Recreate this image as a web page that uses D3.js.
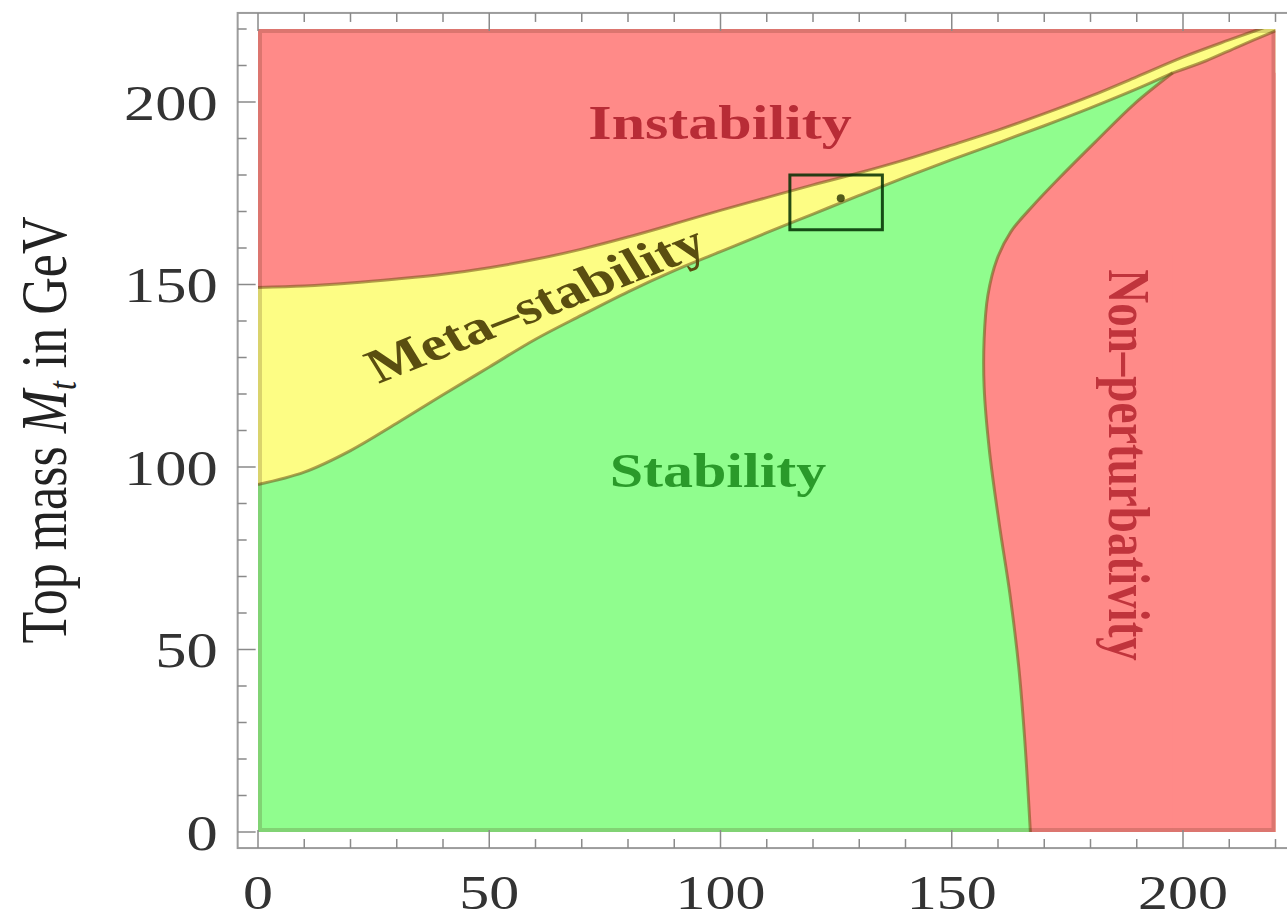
<!DOCTYPE html>
<html>
<head>
<meta charset="utf-8">
<script src="https://cdnjs.cloudflare.com/ajax/libs/d3/7.8.5/d3.min.js"></script>
<style>
    body { margin: 0; background: #fff; }
    text { font-family: "Liberation Serif", "Times New Roman", serif; }
</style>
</head>
<body>
<svg width="1287" height="921"></svg>
<script>
// Region edges, as [Higgs mass, top mass] in GeV
var instabilityEdge = [[0,149.2],[10,149.6],[20,150.4],[30,151.5],[40,152.8],[50,154.6],[60,156.9],[70,159.7],
    [80,163],[90,166.6],[100,170.3],[110,173.8],[120,177.3],[130,180.6],[140,184.2],[150,188.2],[160,192.3],
    [170,196.8],[180,201.6],[190,206.9],[200,212.3],[210,217],[220,221.5]];
var stabilityEdge = [[0,95.2],[10,98.6],[20,104.5],[30,112],[40,119.8],[50,127.4],[60,135],[70,141.6],[80,148],
    [90,153.8],[100,159],[110,164.2],[120,169.3],[130,174.4],[140,179.4],[150,184.2],[160,188.8],[170,193.5],
    [180,198.4],[190,203.6],[197.8,208]];
var nonPertEdge = [[167,0],[165.8,25],[164.5,45],[162.6,65],[160.2,85],[158.1,105],[157,122],[157,135],
    [157.8,147],[159.8,157],[162.8,164.5],[167.5,171.5],[173.5,179.5],[181,189],[189.5,199.5],[197.8,208]];
var tailEdge = [[197.8,208],[205,211.3],[212,215.2],[220,219.5]];

var majorTicks = [0,50,100,150,200];
var minorTicks = [0,10,20,30,40,50,60,70,80,90,100,110,120,130,140,150,160,170,180,190,200,210,220];

// experimental window and point
var expBox = {x0: 115, x1: 135, y0: 165, y1: 180};
var expPoint = [126, 173.6];

var svg = d3.select("svg");

var x = d3.scaleLinear().domain([0, 220]).range([258, 1275.5]);
var y = d3.scaleLinear().domain([0, 220]).range([832, 29]);

var red = "#ff8a88", yellow = "#fdfd84", green = "#90fd8e";
var edgeColor = "rgba(115,80,20,0.55)";
var smooth = d3.curveCatmullRom.alpha(0.5);

svg.append("defs").append("clipPath")
    .attr("id", "plotclip")
    .append("rect")
    .attr("x", x(0)).attr("y", y(220))
    .attr("width", x(220) - x(0)).attr("height", y(0) - y(220));

var g = svg.append("g").attr("clip-path", "url(#plotclip)");

// Instability everywhere first
g.append("rect")
    .attr("x", x(0)).attr("y", y(220))
    .attr("width", x(220) - x(0)).attr("height", y(0) - y(220))
    .attr("fill", red);

// Meta-stability under the instability edge
g.append("path")
    .datum(instabilityEdge)
    .attr("fill", yellow)
    .attr("d", d3.area().x(d => x(d[0])).y0(y(0)).y1(d => y(d[1])).curve(smooth));

// Stability under the stability edge
g.append("path")
    .datum(stabilityEdge)
    .attr("fill", green)
    .attr("d", d3.area().x(d => x(d[0])).y0(y(0)).y1(d => y(d[1])).curve(smooth));

// Non-perturbativity on the right
g.append("path")
    .datum(nonPertEdge)
    .attr("fill", red)
    .attr("d", d3.area().y(d => y(d[1])).x0(d => x(d[0])).x1(x(222)).curve(smooth));

g.append("path")
    .datum(tailEdge)
    .attr("fill", red)
    .attr("d", d3.area().x(d => x(d[0])).y0(y(0)).y1(d => y(d[1])).curve(smooth));

// boundary lines
var edgeLine = d3.line().x(d => x(d[0])).y(d => y(d[1])).curve(smooth);

[instabilityEdge, stabilityEdge, tailEdge, nonPertEdge].forEach(function(pts) {
    g.append("path").datum(pts)
        .attr("fill", "none").attr("stroke", edgeColor).attr("stroke-width", 3)
        .attr("d", edgeLine);
});

// darker rim of the regions
g.append("rect")
    .attr("x", x(0)).attr("y", y(220))
    .attr("width", x(220) - x(0)).attr("height", y(0) - y(220))
    .attr("fill", "none").attr("stroke", "rgba(60,20,0,0.18)").attr("stroke-width", 8);

// Add experimental box
svg.append("rect")
    .attr("x", x(expBox.x0)).attr("y", y(expBox.y1))
    .attr("width", x(expBox.x1) - x(expBox.x0)).attr("height", y(expBox.y0) - y(expBox.y1))
    .attr("fill", "none").attr("stroke", "rgba(0,45,0,0.85)").attr("stroke-width", 3);

svg.append("circle")
    .attr("cx", x(expPoint[0])).attr("cy", y(expPoint[1])).attr("r", 4)
    .attr("fill", "rgba(40,50,0,0.8)");

// Frame
var fx0 = x(-4.4), fx1 = x(224.4), fy0 = y(-4.4), fy1 = y(224.4);
svg.append("rect")
    .attr("x", fx0).attr("y", fy1)
    .attr("width", fx1 - fx0).attr("height", fy0 - fy1)
    .attr("fill", "none").attr("stroke", "#9c9c9c").attr("stroke-width", 2);

var ticks = svg.append("g").attr("stroke", "#8a8a8a").attr("stroke-width", 1.5);
minorTicks.forEach(function(t) {
    var len = majorTicks.indexOf(t) >= 0 ? 18 : 9;
    ticks.append("line").attr("x1", fx0).attr("x2", fx0 + len).attr("y1", y(t)).attr("y2", y(t));
    ticks.append("line").attr("x1", x(t)).attr("x2", x(t)).attr("y1", fy0).attr("y2", fy0 - len);
    ticks.append("line").attr("x1", x(t)).attr("x2", x(t)).attr("y1", fy1).attr("y2", fy1 + len);
});

// Tick labels
var stretch = 1.25;
majorTicks.forEach(function(t) {
    svg.append("text")
        .attr("transform", "translate(" + (fx0 - 20) + "," + y(t) + ") scale(" + stretch + ",1)")
        .attr("text-anchor", "end")
        .attr("dy", "0.35em")
        .attr("font-size", 50)
        .attr("fill", "#333")
        .text(t);
    svg.append("text")
        .attr("transform", "translate(" + x(t) + ",909) scale(" + stretch + ",1)")
        .attr("text-anchor", "middle")
        .attr("font-size", 48)
        .attr("fill", "#333")
        .text(t);
});

// Axis title
var title = svg.append("text")
    .attr("transform", "translate(66,430) scale(" + stretch + ",1) rotate(-90)")
    .attr("text-anchor", "middle")
    .attr("font-size", 52)
    .attr("fill", "#222");
title.append("tspan").text("Top mass ");
title.append("tspan").attr("font-style", "italic").text("M");
title.append("tspan").attr("font-style", "italic").attr("font-size", 32).attr("dy", 8).text("t");
title.append("tspan").attr("dy", -8).text(" in GeV");

// Region labels
svg.append("text")
    .attr("transform", "translate(720,122) scale(" + stretch + ",1)")
    .attr("text-anchor", "middle").attr("dy", "0.35em")
    .attr("font-size", 48).attr("font-weight", "bold")
    .attr("fill", "#b82c36")
    .text("Instability");

svg.append("text")
    .attr("transform", "translate(718,470) scale(" + stretch + ",1)")
    .attr("text-anchor", "middle").attr("dy", "0.35em")
    .attr("font-size", 48).attr("font-weight", "bold")
    .attr("fill", "#2a9a2a")
    .text("Stability");

svg.append("text")
    .attr("transform", "translate(535,303) scale(" + stretch + ",1) rotate(-26.3)")
    .attr("text-anchor", "middle").attr("dy", "0.35em")
    .attr("font-size", 48).attr("font-weight", "bold")
    .attr("fill", "#5a4e10")
    .text("Meta\u2013stability");

svg.append("text")
    .attr("transform", "translate(1130,465) scale(" + stretch + ",1) rotate(90)")
    .attr("text-anchor", "middle").attr("dy", "0.35em")
    .attr("font-size", 47).attr("font-weight", "bold")
    .attr("fill", "#c0343c")
    .text("Non\u2013perturbativity");
</script>
</body>
</html>
